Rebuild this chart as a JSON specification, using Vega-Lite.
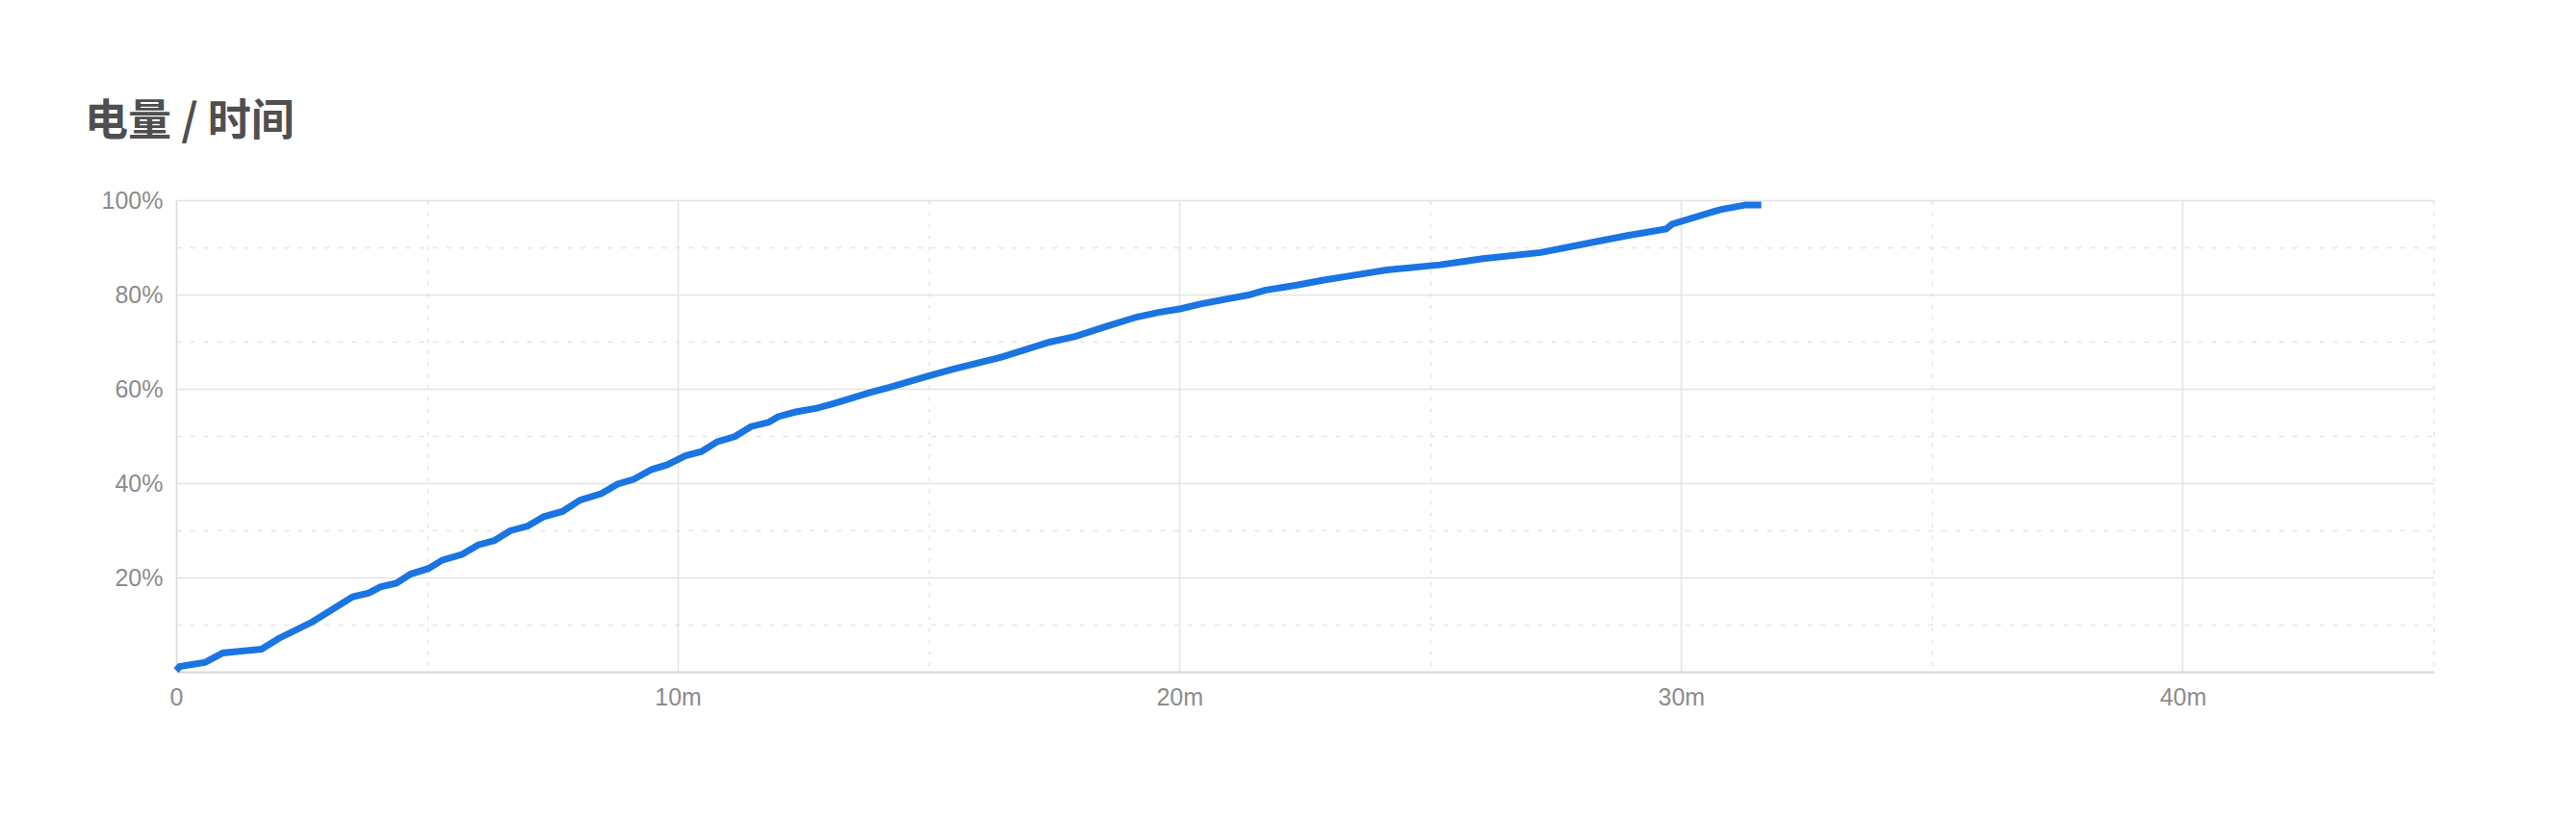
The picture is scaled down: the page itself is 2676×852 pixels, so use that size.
{
  "$schema": "https://vega.github.io/schema/vega-lite/v6.json",
  "autosize": {"type": "none"},
  "width": 2345,
  "height": 490,
  "padding": {"left": 183, "top": 208, "right": 148, "bottom": 154},
  "background": "#ffffff",
  "title": {
    "text": "电量 / 时间",
    "anchor": "start",
    "frame": "group",
    "orient": "top",
    "font": "Noto Sans CJK SC",
    "fontSize": 45,
    "fontWeight": "bold",
    "color": "#4f4f4f",
    "baseline": "bottom",
    "dx": -95,
    "offset": 1
  },
  "config": {
    "view": {"stroke": null},
    "axis": {
      "labelFont": "Liberation Sans Narrow, Liberation Sans, sans-serif",
      "labelFontSize": 25,
      "labelColor": "#8c8c8c",
      "ticks": false,
      "title": null
    }
  },
  "data": {
    "values": [
      {"t": 0, "p": 0.3},
      {"t": 0.07, "p": 1.1},
      {"t": 0.58, "p": 2.0},
      {"t": 0.93, "p": 4.0},
      {"t": 1.70, "p": 4.8},
      {"t": 2.05, "p": 7.1},
      {"t": 2.72, "p": 10.6},
      {"t": 3.52, "p": 15.9},
      {"t": 3.84, "p": 16.7},
      {"t": 4.07, "p": 18.0},
      {"t": 4.39, "p": 18.8},
      {"t": 4.67, "p": 20.7},
      {"t": 5.03, "p": 21.9},
      {"t": 5.31, "p": 23.7},
      {"t": 5.70, "p": 24.9},
      {"t": 6.02, "p": 26.9},
      {"t": 6.34, "p": 27.8},
      {"t": 6.66, "p": 29.9},
      {"t": 7.01, "p": 30.9},
      {"t": 7.33, "p": 32.9},
      {"t": 7.70, "p": 34.0},
      {"t": 8.05, "p": 36.4},
      {"t": 8.48, "p": 37.8},
      {"t": 8.80, "p": 39.8},
      {"t": 9.12, "p": 40.8},
      {"t": 9.48, "p": 42.9},
      {"t": 9.79, "p": 43.9},
      {"t": 10.15, "p": 45.8},
      {"t": 10.47, "p": 46.7},
      {"t": 10.79, "p": 48.8},
      {"t": 11.14, "p": 49.9},
      {"t": 11.46, "p": 52.0},
      {"t": 11.81, "p": 52.9},
      {"t": 12.0, "p": 54.1},
      {"t": 12.35, "p": 55.1},
      {"t": 12.77, "p": 55.9},
      {"t": 13.12, "p": 56.9},
      {"t": 13.83, "p": 59.2},
      {"t": 14.21, "p": 60.3},
      {"t": 14.98, "p": 62.7},
      {"t": 15.5, "p": 64.2},
      {"t": 16.45, "p": 66.7},
      {"t": 17.41, "p": 69.9},
      {"t": 17.92, "p": 71.1},
      {"t": 18.56, "p": 73.3},
      {"t": 19.14, "p": 75.2},
      {"t": 19.58, "p": 76.2},
      {"t": 20.03, "p": 77.0},
      {"t": 20.42, "p": 78.0},
      {"t": 21.38, "p": 79.9},
      {"t": 21.70, "p": 80.9},
      {"t": 22.34, "p": 82.0},
      {"t": 22.85, "p": 83.0},
      {"t": 23.49, "p": 84.1},
      {"t": 24.13, "p": 85.2},
      {"t": 25.2, "p": 86.3},
      {"t": 26.05, "p": 87.6},
      {"t": 27.2, "p": 88.9},
      {"t": 27.97, "p": 90.5},
      {"t": 28.93, "p": 92.5},
      {"t": 29.70, "p": 93.9},
      {"t": 29.82, "p": 94.9},
      {"t": 30.78, "p": 98.0},
      {"t": 31.29, "p": 99.0},
      {"t": 31.6, "p": 99.0}
    ]
  },
  "mark": {"type": "line", "color": "#1a74e2", "strokeWidth": 7, "clip": false},
  "encoding": {
    "x": {
      "field": "t",
      "type": "quantitative",
      "scale": {"domain": [0, 45], "nice": false, "zero": true},
      "axis": {
        "values": [0, 5, 10, 15, 20, 25, 30, 35, 40, 45],
        "labelExpr": "datum.value === 0 ? '0' : (datum.value % 10 === 0 ? datum.value + 'm' : '')",
        "labelPadding": 14,
        "labelAlign": "center",
        "domainColor": "#d6d6d6",
        "domainWidth": 2,
        "gridWidth": 1.5,
        "gridColor": "#e4e4e4",
        "gridDash": {"condition": {"test": "datum.value % 10 === 0", "value": []}, "value": [4, 8]}
      }
    },
    "y": {
      "field": "p",
      "type": "quantitative",
      "scale": {"domain": [0, 100], "nice": false},
      "axis": {
        "values": [10, 20, 30, 40, 50, 60, 70, 80, 90, 100],
        "labelExpr": "datum.value % 20 === 0 ? datum.value + '%' : ''",
        "labelPadding": 14,
        "domainColor": "#dcdcdc",
        "domainWidth": 1.5,
        "gridWidth": 1.5,
        "gridColor": "#e4e4e4",
        "gridDash": {"condition": {"test": "datum.value % 20 === 0", "value": []}, "value": [5, 9]}
      }
    }
  }
}
